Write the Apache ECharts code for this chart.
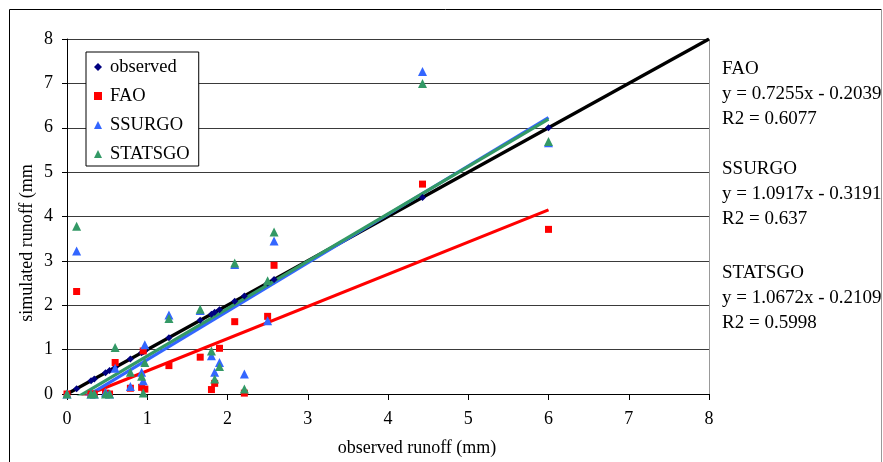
<!DOCTYPE html>
<html>
<head>
<meta charset="utf-8">
<script src="https://cdn.jsdelivr.net/npm/echarts@6/dist/echarts.min.js"></script>
<style>
  html, body { margin: 0; padding: 0; background: #fff; }
  #chart { width: 883px; height: 462px; }
</style>
</head>
<body>
<div id="chart"></div>
<script>
// observed runoff (mm) for each event, and the three simulated runs
const observedX = [0, 0.12, 0.30, 0.34, 0.48, 0.53, 0.60, 0.79, 0.93, 0.95, 0.97, 1.27, 1.66, 1.80, 1.84, 1.90, 2.09, 2.21, 2.50, 2.58, 4.43, 6.00];
const faoSim = [0, 2.31, 0, 0, 0.02, 0, 0.71, 0.13, 0.15, 0.97, 0.11, 0.64, 0.83, 0.10, 0.24, 1.03, 1.63, 0.02, 1.75, 2.90, 4.73, 3.71];
const ssurgoSim = [0, 3.22, 0, 0, 0.04, 0, 0.58, 0.17, 0.49, 0.30, 1.11, 1.78, 1.88, 0.86, 0.49, 0.71, 2.92, 0.45, 1.65, 3.45, 7.27, 5.66];
const statsgoSim = [0, 3.78, 0, 0, 0, 0, 1.05, 0.49, 0.40, 0.02, 0.71, 1.70, 1.91, 0.97, 0.34, 0.62, 2.95, 0.11, 2.55, 3.65, 7.00, 5.69];

// regression lines shown at right
const trendNames = ["FAO", "SSURGO", "STATSGO"];
const trendSlopes = [0.7255, 1.0917, 1.0672];
const trendIntercepts = [-0.2039, -0.3191, -0.2109];
const trendR2 = ["0.6077", "0.637", "0.5998"];
const trendRange = [0, 6];
const oneToOneRange = [0, 8];

const axisTicks = [0, 1, 2, 3, 4, 5, 6, 7, 8];

const serif = "Liberation Serif, Times New Roman, serif";
const colors = { observed: "#000080", FAO: "#FF0000", SSURGO: "#3366FF", STATSGO: "#339966" };

const chart = echarts.init(document.getElementById("chart"), null, { renderer: "canvas" });

function pairs(xs, ys) {
  return xs.map((x, i) => [x, ys[i]]);
}
function fitLine(slope, icpt, range) {
  return range.map((x) => [x, slope * x + icpt]);
}

const simSeries = { FAO: faoSim, SSURGO: ssurgoSim, STATSGO: statsgoSim };
const symbols = { FAO: "rect", SSURGO: "triangle", STATSGO: "triangle" };

const series = [];
// trend lines first so markers sit above
series.push({
  name: "1:1",
  type: "line",
  data: fitLine(1, 0, oneToOneRange),
  showSymbol: false,
  lineStyle: { color: "#000", width: 3.2 },
  silent: true,
  z: 2,
});
trendNames.forEach((n, i) => {
  series.push({
    name: n + " fit",
    type: "line",
    data: fitLine(trendSlopes[i], trendIntercepts[i], trendRange),
    showSymbol: false,
    clip: true,
    lineStyle: { color: colors[n], width: 3.2 },
    silent: true,
    z: 2,
  });
});
series.push({
  name: "observed",
  type: "scatter",
  symbol: "diamond",
  symbolSize: 7,
  itemStyle: { color: colors.observed, opacity: 1 },
  data: pairs(observedX, observedX),
  z: 3,
});
trendNames.forEach((n) => {
  series.push({
    name: n,
    type: "scatter",
    symbol: symbols[n],
    symbolSize: n === "FAO" ? 7 : 9,
    itemStyle: { color: colors[n], opacity: 1 },
    data: pairs(observedX, simSeries[n]),
    z: 3,
  });
});

// equation texts on the right
const eqTexts = [];
const groupTop = [70.5, 170.5, 275];
trendNames.forEach((n, i) => {
  const sign = trendIntercepts[i] < 0 ? " - " : " + ";
  const lines = [
    n,
    "y = " + trendSlopes[i].toFixed(4) + "x" + sign + Math.abs(trendIntercepts[i]).toFixed(4),
    "R2 = " + trendR2[i],
  ];
  lines.forEach((t, j) => {
    eqTexts.push({
      type: "text",
      left: 722,
      top: groupTop[i] + j * 24.8 - 11,
      style: { text: t, font: "19px " + serif, fill: "#000" },
    });
  });
});

const option = {
  animation: false,
  backgroundColor: "#fff",
  grid: { left: 67, right: 174, top: 39, bottom: 67, show: false },
  legend: {
    data: ["observed", "FAO", "SSURGO", "STATSGO"],
    orient: "vertical",
    left: 86,
    top: 52,
    itemWidth: 8,
    itemHeight: 8,
    itemGap: 9,
    padding: [5, 9, 2, 8],
    borderColor: "#000",
    borderWidth: 1,
    backgroundColor: "#fff",
    textStyle: { fontFamily: serif, fontSize: 18.5, color: "#000", lineHeight: 20, padding: [0, 0, 0, 3] },
  },
  xAxis: {
    type: "value",
    min: axisTicks[0],
    max: axisTicks[axisTicks.length - 1],
    interval: 1,
    name: "observed runoff (mm)",
    nameLocation: "middle",
    nameGap: 45,
    nameTextStyle: { fontFamily: serif, fontSize: 18, color: "#000", padding: [0, 0, 0, 58] },
    axisLine: { show: true, onZero: false, lineStyle: { color: "#000", width: 1 } },
    axisTick: { show: true, inside: false, length: 6, lineStyle: { color: "#000" } },
    axisLabel: { margin: 16, fontFamily: serif, fontSize: 18, color: "#000" },
    splitLine: { show: false },
  },
  yAxis: {
    type: "value",
    min: axisTicks[0],
    max: axisTicks[axisTicks.length - 1],
    interval: 1,
    axisLine: { show: true, onZero: false, lineStyle: { color: "#000", width: 1 } },
    axisTick: { show: true, inside: false, length: 5, lineStyle: { color: "#000" } },
    axisLabel: { margin: 14, fontFamily: serif, fontSize: 18, color: "#000" },
    splitLine: { show: true, lineStyle: { color: "#3a3a3a", width: 1 } },
  },
  graphic: [
    // outer chart frame
    { type: "line", shape: { x1: 9.5, y1: 9.5, x2: 881.5, y2: 9.5 }, style: { stroke: "#000", lineWidth: 1 }, z: 0 },
    { type: "line", shape: { x1: 9.5, y1: 9.5, x2: 9.5, y2: 462 }, style: { stroke: "#000", lineWidth: 1 }, z: 0 },
    { type: "line", shape: { x1: 881.5, y1: 9.5, x2: 881.5, y2: 462 }, style: { stroke: "#999", lineWidth: 1 }, z: 0 },
    // plot area right border
    { type: "line", shape: { x1: 709.5, y1: 39, x2: 709.5, y2: 395 }, style: { stroke: "#999", lineWidth: 1 }, z: 0 },
    {
      type: "text",
      x: 27,
      y: 243,
      rotation: Math.PI / 2,
      style: {
        text: "simulated runoff (mm",
        font: "18px " + serif,
        fill: "#000",
        textAlign: "center",
        textVerticalAlign: "middle",
      },
    },
    ...eqTexts,
  ],
  series: series,
};

chart.setOption(option);
window.addEventListener("resize", () => chart.resize());
</script>
</body>
</html>
